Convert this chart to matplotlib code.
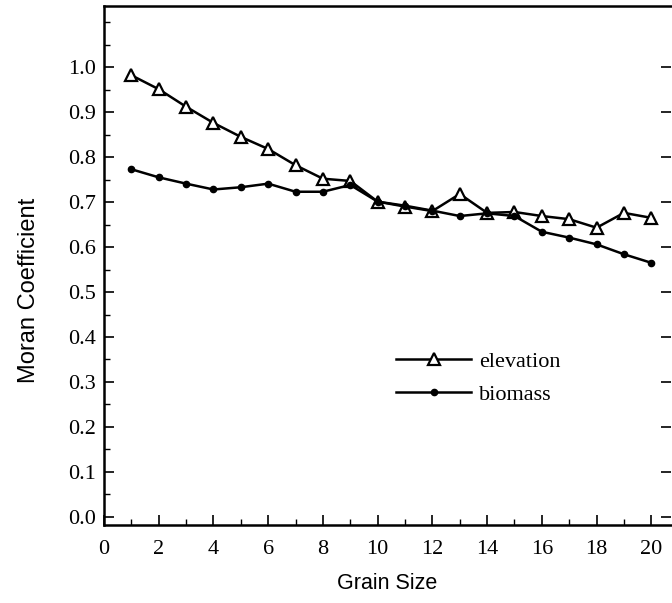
import matplotlib
matplotlib.use("Agg")
import matplotlib.pyplot as plt
from matplotlib.ticker import MultipleLocator

grain = list(range(1, 21))
elevation = [0.982, 0.951, 0.912, 0.876, 0.845, 0.818, 0.782, 0.752, 0.747, 0.701,
             0.690, 0.680, 0.718, 0.676, 0.678, 0.669, 0.662, 0.643, 0.676, 0.665]
biomass = [0.773, 0.755, 0.741, 0.728, 0.733, 0.741, 0.723, 0.723, 0.738, 0.701,
           0.692, 0.681, 0.669, 0.675, 0.669, 0.634, 0.621, 0.606, 0.584, 0.565]
xticks = list(range(0, 21, 2))
yticks = [round(0.1 * i, 1) for i in range(11)]

fig = plt.figure(figsize=(6.72, 6.03), dpi=100)
ax = fig.add_axes([104/672, 1 - 525/603, (671 - 104)/672, (525 - 6)/603])

ax.plot(grain, elevation, color='black', lw=1.8, marker='^', ms=8,
        mfc='white', mec='black', mew=1.6, label='elevation')
ax.plot(grain, biomass, color='black', lw=1.8, marker='o', ms=4.5,
        mfc='black', mec='black', label='biomass')

ax.set_xlim(0, 20.72)
ax.set_ylim(-0.018, 1.136)
ax.set_xticks(xticks)
ax.set_yticks(yticks)
ax.set_yticklabels([f"{v:.1f}" for v in yticks])
ax.xaxis.set_minor_locator(MultipleLocator(1))
ax.yaxis.set_minor_locator(MultipleLocator(0.05))

serif = 'Liberation Serif'
for lab in ax.get_xticklabels() + ax.get_yticklabels():
    lab.set_fontfamily(serif)
    lab.set_fontsize(16)

ax.tick_params(axis='both', which='major', direction='in', length=7, width=1.2, pad=6)
ax.tick_params(axis='x', which='major', pad=11)
ax.tick_params(axis='both', which='minor', direction='in', length=4, width=1.0)
ax.tick_params(axis='y', which='major', right=True, left=True)
ax.tick_params(axis='y', which='minor', right=False)
ax.tick_params(axis='x', top=False, which='both')

for s in ['left', 'bottom', 'top']:
    ax.spines[s].set_linewidth(1.8)
ax.spines['right'].set_visible(False)

ax.set_xlabel('Grain Size', fontfamily='Liberation Sans', fontsize=15.5, labelpad=10)
ax.set_ylabel('Moran Coefficient', fontfamily='Liberation Sans', fontsize=17)
ax.yaxis.set_label_coords(-0.112, 0.452)

leg = ax.legend(loc='center left', bbox_to_anchor=(0.495, 0.283), frameon=False,
                prop={'family': serif, 'size': 16}, handlelength=3.4,
                handletextpad=0.35, labelspacing=0.55, numpoints=1, borderpad=0)

fig.savefig('out.png', dpi=100)
